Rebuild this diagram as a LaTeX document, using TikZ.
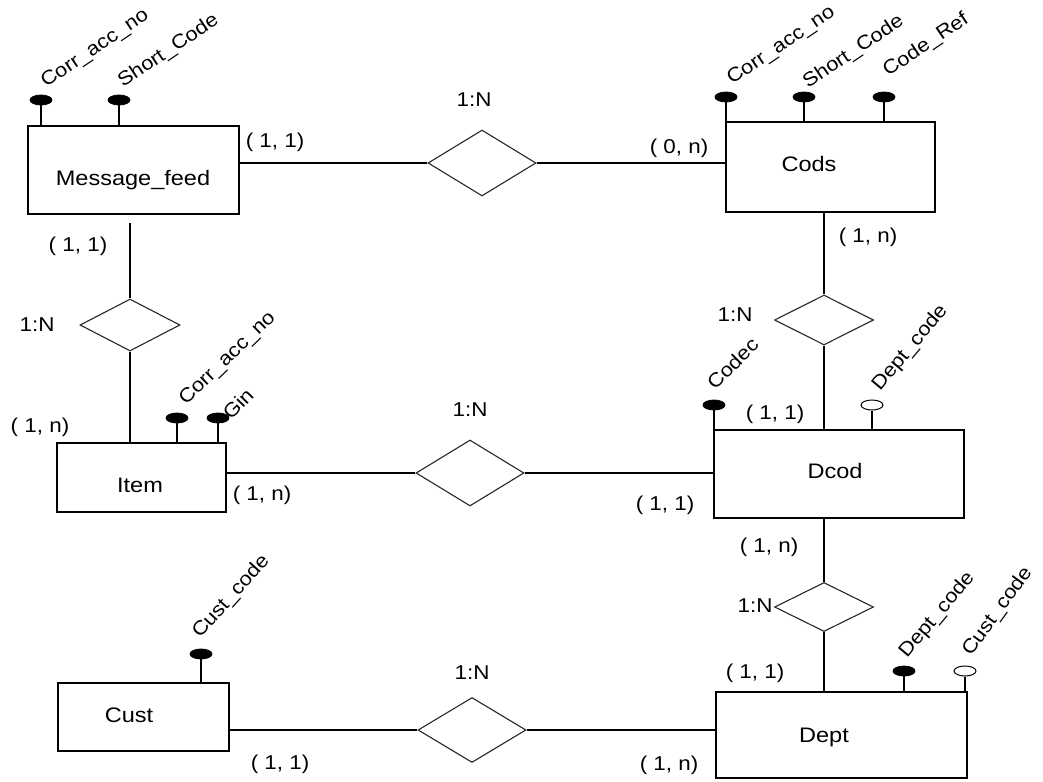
\documentclass[tikz,border=0pt]{standalone}
\usepackage{fontspec}
\setmainfont{Liberation Sans}[FakeStretch=1.12]
\usetikzlibrary{shapes.geometric}
\newcommand{\crd}[2]{( #1, #2)}
\begin{document}
\begin{tikzpicture}[x=1pt,y=-1pt,
  ent/.style={draw, rectangle, line width=1.5pt, inner sep=0pt},
  etxt/.style={anchor=base, inner sep=0pt, font=\fontsize{21}{23}\selectfont},
  rel/.style={draw=black!85, diamond, inner sep=0pt, line width=1.1pt},
  lnk/.style={line width=1.3pt},
  stem/.style={line width=1.3pt},
  card/.style={inner sep=0pt, font=\fontsize{20}{22}\selectfont},
  keyf/.style={ellipse, draw=black, fill=black, minimum width=22pt, minimum height=10pt, inner sep=0pt, line width=0.8pt},
  keyo/.style={ellipse, draw=black, fill=white, minimum width=22pt, minimum height=10pt, inner sep=0pt, line width=1pt},
  attr/.style={anchor=base west, inner sep=0pt, font=\fontsize{19.5}{21}\selectfont}
]
\useasboundingbox (0,0) rectangle (1043,781);

% entities
\node[ent, minimum width=211pt, minimum height=88pt] (mf) at (133.5,170) {};
\node[etxt] (mft) at (133,185.5) {Message\_feed};
\node[ent, minimum width=209pt, minimum height=90pt] (cods) at (830.5,167) {};
\node[etxt] (codst) at (809,171) {Cods};
\node[ent, minimum width=169pt, minimum height=69pt] (item) at (141.5,477.5) {};
\node[etxt] (itemt) at (140,492) {Item};
\node[ent, minimum width=250pt, minimum height=88pt] (dcod) at (839,474) {};
\node[etxt] (dcodt) at (835,478) {Dcod};
\node[ent, minimum width=171pt, minimum height=68pt] (cust) at (143.5,717) {};
\node[etxt] (custt) at (129,722) {Cust};
\node[ent, minimum width=251pt, minimum height=86pt] (dept) at (841.5,735) {};
\node[etxt] (deptt) at (824,742) {Dept};

% relationships
\node[rel, minimum width=108pt, minimum height=66pt] (r1) at (482,163) {};
\node[rel, minimum width=100pt, minimum height=52pt] (r2) at (130,325) {};
\node[rel, minimum width=99pt, minimum height=50pt] (r3) at (824,320) {};
\node[rel, minimum width=108pt, minimum height=66pt] (r4) at (470,473) {};
\node[rel, minimum width=99pt, minimum height=49pt] (r5) at (824,607) {};
\node[rel, minimum width=108pt, minimum height=65pt] (r6) at (472,730) {};

% connectors
\draw[lnk] (mf.east |- r1.west) -- (r1.west);
\draw[lnk] (r1.east) -- (r1.east -| cods.west);
\draw[lnk] ([yshift=-8pt]r2.north |- mf.south) -- (r2.north);
\draw[lnk] (r2.south) -- (r2.south |- item.north);
\draw[lnk] (r3.north |- cods.south) -- (r3.north);
\draw[lnk] (r3.south) -- (r3.south |- dcod.north);
\draw[lnk] (item.east |- r4.west) -- (r4.west);
\draw[lnk] (r4.east) -- (r4.east -| dcod.west);
\draw[lnk] (r5.north |- dcod.south) -- (r5.north);
\draw[lnk] (r5.south) -- (r5.south |- dept.north);
\draw[lnk] (cust.east |- r6.west) -- (r6.west);
\draw[lnk] (r6.east) -- (r6.east -| dept.west);

% attributes: Message_feed
\node[keyf] (k1) at (41,100) {};
\draw[stem] (k1.south) -- (k1.south |- mf.north);
\node[attr, rotate=34] (k1t) at (46,88) {Corr\_acc\_no};
\node[keyf] (k2) at (119,100) {};
\draw[stem] (k2.south) -- (k2.south |- mf.north);
\node[attr, rotate=34] (k2t) at (123,88) {Short\_Code};
% Cods
\node[keyf] (k3) at (726,97) {};
\draw[stem] (k3.south) -- (k3.south |- cods.north);
\node[attr, rotate=34] (k3t) at (732,85) {Corr\_acc\_no};
\node[keyf] (k4) at (804,97) {};
\draw[stem] (k4.south) -- (k4.south |- cods.north);
\node[attr, rotate=34] (k4t) at (808,89) {Short\_Code};
\node[keyf] (k5) at (884,97) {};
\draw[stem] (k5.south) -- (k5.south |- cods.north);
\node[attr, rotate=34] (k5t) at (888,77) {Code\_Ref};
% Item
\node[keyf] (k6) at (177,418) {};
\draw[stem] (k6.south) -- (k6.south |- item.north);
\node[attr, rotate=44] (k6t) at (186,406) {Corr\_acc\_no};
\node[keyf] (k7) at (218,418) {};
\draw[stem] (k7.south) -- (k7.south |- item.north);
\node[attr, rotate=46] (k7t) at (231,421) {Gin};
% Dcod
\node[keyf] (k8) at (714,405) {};
\draw[stem] (k8.south) -- (k8.south |- dcod.north);
\node[attr, rotate=45] (k8t) at (715,391) {Codec};
\node[keyo] (k9) at (872,405) {};
\draw[stem] (k9.south) -- (k9.south |- dcod.north);
\node[attr, rotate=50] (k9t) at (880,392) {Dept\_code};
% Cust
\node[keyf] (k10) at (201,654) {};
\draw[stem] (k10.south) -- (k10.south |- cust.north);
\node[attr, rotate=48] (k10t) at (200,639) {Cust\_code};
% Dept
\node[keyf] (k11) at (904,671) {};
\draw[stem] (k11.south) -- (k11.south |- dept.north);
\node[attr, rotate=50] (k11t) at (907,659) {Dept\_code};
\node[keyo] (k12) at (965,671) {};
\draw[stem] (k12.south) -- (k12.south |- dept.north);
\node[attr, rotate=54] (k12t) at (971,657) {Cust\_code};

% cardinalities
\node[card] (c1) at (275,142) {\crd{1}{1}};
\node[card] (c2) at (78,246) {\crd{1}{1}};
\node[card] (c3) at (679,148) {\crd{0}{n}};
\node[card] (c4) at (868,237) {\crd{1}{n}};
\node[card] (c5) at (40,427) {\crd{1}{n}};
\node[card] (c6) at (262,495) {\crd{1}{n}};
\node[card] (c7) at (775,414) {\crd{1}{1}};
\node[card] (c8) at (665,505) {\crd{1}{1}};
\node[card] (c9) at (769,547) {\crd{1}{n}};
\node[card] (c10) at (755,673) {\crd{1}{1}};
\node[card] (c11) at (669,765) {\crd{1}{n}};
\node[card] (c12) at (280,764) {\crd{1}{1}};

% ratios
\node[card] (n1) at (474,100) {1:N};
\node[card] (n2) at (37,325) {1:N};
\node[card] (n3) at (735,315) {1:N};
\node[card] (n4) at (470,410) {1:N};
\node[card] (n5) at (755,606) {1:N};
\node[card] (n6) at (472,673) {1:N};
\end{tikzpicture}
\end{document}
